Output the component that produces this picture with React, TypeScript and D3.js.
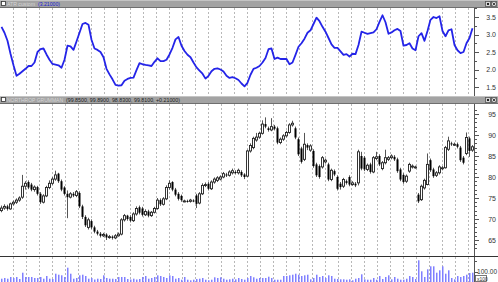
import React from 'react';
import * as d3 from 'd3';

const opens = [
  72.0, 72.6, 73.0, 72.4, 73.6, 74.0, 74.5, 75.2, 77.8, 78.8,
  78.2, 77.0, 77.6, 76.0, 74.0, 75.5, 77.5, 78.5, 79.5, 80.8,
  79.0, 77.5, 76.0, 75.2, 76.0, 75.6, 76.2, 73.0, 70.5, 68.0,
  69.5, 68.0, 67.0, 66.5, 66.0, 66.3, 65.6, 65.8, 65.5, 66.0,
  66.4, 69.8, 70.8, 70.5, 69.6, 71.2, 72.8, 72.5, 71.0, 71.8,
  70.8, 71.6, 72.5, 74.5, 73.5, 74.8, 77.5, 78.8, 77.0, 76.0,
  75.5, 74.3, 74.3, 74.2, 74.4, 75.6, 73.8, 76.0, 78.0, 78.4,
  77.2, 78.8, 79.2, 79.5, 80.0, 80.6, 80.4, 81.0, 81.2, 81.0,
  81.2, 80.6, 80.2, 86.2, 87.0, 88.8, 89.5, 90.4, 92.6, 91.6,
  91.2, 92.0, 91.6, 88.2, 89.0, 89.8, 90.6, 92.4, 91.6, 89.0,
  86.8, 84.2, 87.6, 86.4, 86.2, 83.0, 82.6, 82.4, 83.6, 83.0,
  79.4, 81.4, 80.0, 78.4, 77.8, 79.0, 80.0, 78.2, 78.4, 78.6,
  85.0, 84.6, 81.8, 83.0, 81.2, 84.4, 85.0, 82.0, 83.4, 84.2,
  84.6, 84.8, 84.2, 81.8, 80.5, 79.0, 81.4, 82.4, 82.4, 75.8,
  74.6, 77.4, 78.2, 84.0, 81.8, 80.4, 81.0, 82.0, 82.2, 86.6,
  88.0, 87.8, 87.8, 87.0, 84.6, 85.6, 89.2, 86.4,
];
const highs = [
  73.2, 73.5, 73.4, 73.9, 74.4, 74.9, 75.4, 80.5, 79.0, 79.2,
  78.6, 78.0, 77.9, 76.4, 75.9, 77.9, 79.2, 80.0, 81.5, 81.0,
  79.4, 77.8, 76.8, 76.4, 76.4, 76.9, 76.6, 73.4, 70.9, 70.3,
  69.9, 68.4, 67.4, 66.9, 66.7, 66.6, 66.2, 66.1, 66.4, 66.8,
  70.2, 71.2, 71.0, 70.9, 71.6, 73.0, 73.2, 72.9, 72.3, 72.2,
  71.9, 72.9, 75.0, 74.9, 75.2, 78.0, 79.2, 79.0, 77.4, 76.4,
  75.8, 74.6, 74.6, 74.8, 74.7, 76.0, 76.4, 78.5, 78.7, 78.8,
  79.2, 79.9, 80.2, 80.4, 81.2, 81.0, 81.6, 82.0, 81.6, 82.0,
  81.6, 80.9, 86.5, 88.0, 89.6, 90.5, 90.8, 93.5, 94.2, 92.0,
  94.0, 92.4, 92.0, 89.4, 90.2, 91.0, 92.8, 93.4, 92.0, 89.4,
  87.2, 90.5, 88.0, 87.8, 86.6, 83.4, 83.0, 85.0, 84.4, 83.4,
  82.0, 81.8, 80.4, 78.8, 79.8, 79.4, 80.4, 79.0, 78.8, 86.5,
  86.0, 85.0, 83.2, 83.4, 85.0, 86.0, 85.4, 83.8, 86.5, 85.0,
  85.4, 85.2, 84.6, 82.2, 80.9, 80.6, 83.4, 83.0, 82.7, 76.2,
  78.2, 79.6, 85.6, 84.4, 82.2, 81.4, 82.8, 82.6, 87.4, 89.6,
  88.4, 88.2, 88.2, 87.4, 85.0, 90.6, 89.6, 87.6,
];
const lows = [
  71.6, 72.2, 72.0, 72.2, 73.2, 73.6, 74.1, 74.8, 77.0, 77.1,
  76.6, 76.5, 75.6, 73.6, 73.7, 75.2, 77.1, 78.1, 79.1, 78.6,
  76.6, 75.6, 70.2, 74.9, 75.2, 75.2, 72.6, 70.0, 68.1, 67.5,
  67.6, 66.6, 66.1, 65.6, 65.7, 65.0, 65.3, 65.1, 65.2, 65.8,
  66.1, 69.4, 69.6, 69.2, 69.3, 70.8, 71.1, 70.6, 70.7, 70.4,
  70.5, 71.3, 72.2, 73.1, 73.2, 74.5, 77.0, 76.6, 75.4, 74.4,
  74.1, 74.0, 73.9, 73.9, 74.0, 72.6, 73.5, 75.7, 77.6, 76.8,
  76.9, 78.4, 78.8, 79.2, 79.7, 80.0, 80.1, 80.6, 80.6, 80.6,
  80.0, 79.5, 80.0, 85.8, 86.6, 88.4, 89.1, 90.1, 91.6, 90.8,
  90.9, 91.1, 87.8, 87.8, 88.6, 89.4, 90.3, 92.0, 89.0, 85.0,
  83.2, 83.8, 86.4, 86.0, 82.2, 80.0, 79.6, 82.0, 83.2, 79.0,
  79.0, 80.2, 76.8, 77.0, 77.4, 78.2, 77.8, 77.9, 77.6, 78.0,
  81.6, 81.4, 81.4, 80.8, 80.9, 84.0, 82.6, 81.6, 83.0, 83.8,
  84.2, 83.8, 81.0, 79.0, 78.4, 78.6, 81.0, 82.0, 82.0, 73.8,
  74.3, 77.0, 78.0, 81.2, 79.8, 80.0, 80.6, 81.6, 82.0, 86.2,
  87.4, 87.4, 86.8, 83.6, 83.0, 85.2, 84.8, 86.0,
];
const closes = [
  72.6, 73.0, 72.4, 73.6, 74.0, 74.5, 75.0, 77.8, 78.5, 77.5,
  77.0, 77.6, 76.0, 74.0, 75.5, 77.5, 78.5, 79.5, 80.5, 79.0,
  77.0, 76.0, 75.2, 76.0, 75.6, 76.5, 73.0, 70.5, 68.5, 69.8,
  68.0, 67.0, 66.5, 66.0, 66.3, 65.6, 65.8, 65.5, 66.0, 66.4,
  69.8, 70.8, 70.0, 69.6, 71.2, 72.5, 71.5, 71.0, 71.8, 70.8,
  71.6, 72.5, 74.5, 73.5, 74.8, 77.5, 78.5, 77.0, 75.8, 74.8,
  74.5, 74.3, 74.2, 74.5, 74.3, 73.6, 76.0, 78.0, 78.2, 77.2,
  78.8, 79.5, 79.8, 80.0, 80.8, 80.4, 81.2, 81.5, 81.0, 81.6,
  80.4, 80.0, 86.2, 87.5, 89.2, 89.5, 90.4, 92.6, 92.0, 91.2,
  92.0, 91.5, 88.2, 89.0, 89.8, 90.6, 92.4, 92.8, 89.4, 85.4,
  83.6, 87.8, 87.0, 87.4, 82.6, 80.4, 80.0, 84.6, 84.0, 79.4,
  81.6, 80.6, 77.2, 77.6, 79.4, 78.6, 78.2, 78.6, 78.0, 86.0,
  82.0, 81.8, 82.8, 81.2, 84.6, 84.8, 83.0, 83.4, 84.6, 84.6,
  85.0, 84.2, 81.4, 79.4, 78.8, 80.2, 83.0, 82.6, 82.4, 74.2,
  77.8, 79.2, 83.0, 81.6, 80.2, 81.0, 82.4, 82.2, 87.0, 88.6,
  87.8, 87.8, 87.2, 84.0, 83.4, 89.4, 86.2, 87.2,
];
const atr = [
  3.22, 3.05, 2.82, 2.45, 2.12, 1.82, 1.88, 1.95, 2.02, 2.1,
  2.1, 2.2, 2.5, 2.58, 2.6, 2.43, 2.28, 2.16, 2.14, 2.12,
  2.05, 2.28, 2.68, 2.66, 2.56, 2.8, 3.05, 3.3, 3.33, 3.28,
  2.85, 2.6, 2.56, 2.5, 2.35, 2.02, 1.86, 1.72, 1.56, 1.54,
  1.55, 1.68, 1.73, 1.76, 1.77, 1.98, 2.18, 2.15, 2.13, 2.12,
  2.1, 2.22, 2.32, 2.24, 2.24, 2.28, 2.43, 2.62, 2.86, 2.93,
  2.68, 2.53, 2.42, 2.35, 2.2, 2.06, 1.97, 1.88, 1.74, 1.82,
  1.95, 2.02, 2.03, 2.0, 1.94, 1.82, 1.76, 1.78, 1.75, 1.7,
  1.6, 1.52, 1.62, 1.85, 2.02, 2.05, 2.1, 2.2, 2.33, 2.58,
  2.6, 2.3, 2.34, 2.3, 2.3, 2.3, 2.15, 2.2, 2.42, 2.65,
  2.75, 2.88, 3.05, 3.12, 3.3, 3.48, 3.38, 3.22, 3.08, 2.9,
  2.72, 2.62, 2.62, 2.52, 2.42, 2.44, 2.37, 2.45, 2.44, 2.7,
  3.08, 3.05, 3.02, 3.04, 3.06, 3.15, 3.36, 3.55, 3.35, 3.02,
  3.06, 3.12, 3.16, 3.1, 2.68, 2.7, 2.75, 2.6, 2.55, 2.95,
  3.04, 2.82, 3.1, 3.42, 3.5, 3.47, 3.52, 3.1, 2.95, 3.12,
  3.15, 2.7, 2.55, 2.47, 2.5, 2.75, 2.9, 3.18,
];
const volumes = [
  33, 40, 33, 50, 40, 50, 30, 93, 50, 50,
  50, 40, 40, 50, 33, 60, 33, 30, 83, 73,
  67, 50, 143, 83, 33, 40, 67, 73, 60, 33,
  40, 25, 33, 30, 67, 40, 33, 33, 30, 50,
  50, 50, 30, 25, 33, 25, 30, 50, 60, 33,
  40, 50, 67, 60, 50, 40, 67, 60, 33, 40,
  23, 50, 23, 17, 23, 30, 33, 40, 23, 17,
  23, 47, 40, 47, 33, 23, 27, 33, 27, 40,
  30, 23, 40, 60, 47, 33, 40, 40, 40, 53,
  40, 23, 23, 23, 60, 60, 67, 73, 83, 73,
  60, 67, 73, 27, 40, 73, 50, 60, 40, 67,
  60, 33, 30, 27, 27, 23, 27, 17, 33, 40,
  77, 27, 23, 23, 40, 23, 60, 30, 50, 67,
  27, 50, 33, 23, 23, 33, 60, 50, 30, 217,
  107, 50, 127, 157, 157, 93, 117, 157, 83, 117,
  40, 27, 60, 50, 60, 73, 90, 93,
];
const atrTicks = [1.5, 2.0, 2.5, 3.0, 3.5];
const priceTicks = [65, 70, 75, 80, 85, 90, 95];
const volTicks = [100];
const atrTitle = 'ATR custom';
const atrValue = '(3.21000)';
const priceTitle = 'NORTHROP GRUMMAN';
const priceValue = '(99.8500, 99.8900, 98.8300, 99.8100, +0.21000)';

const W = 498;
const H = 282;
const PLOT_R = 474;
const FONT = 'Liberation Sans, Arial, sans-serif';

function Header({ y, title, value, valueColor, titleLen, valueLen }: any) {
  return (
    <g>
      <rect x={0} y={y} width={W} height={8} fill="#a3a3a3" />
      <line x1={0} x2={W} y1={y + 0.5} y2={y + 0.5} stroke="#c4c4c4" />
      <line x1={0} x2={W} y1={y + 7.5} y2={y + 7.5} stroke="#6e6e6e" />
      <rect x={1.5} y={y + 1.5} width={4} height={4} fill="#fff" stroke="#333" strokeWidth={0.8} />
      <text x={7} y={y + 6} fontSize={5.2} fontFamily={FONT} fill="#d6d6d6" textLength={titleLen} lengthAdjust="spacingAndGlyphs">{title}</text>
      <text x={10 + titleLen} y={y + 6} fontSize={5.6} fontFamily={FONT} fill={valueColor} textLength={valueLen} lengthAdjust="spacingAndGlyphs">{value}</text>
      <rect x={485.5} y={y + 1.5} width={5} height={5} fill="#d4d4d4" stroke="#555" strokeWidth={0.8} />
      <rect x={487} y={y + 3} width={2} height={2} fill="#222" />
      <rect x={491.5} y={y + 1.5} width={5} height={5} fill="#d4d4d4" stroke="#555" strokeWidth={0.8} />
      <line x1={492.5} x2={495.5} y1={y + 2.5} y2={y + 5.5} stroke="#222" strokeWidth={0.8} />
      <line x1={495.5} x2={492.5} y1={y + 2.5} y2={y + 5.5} stroke="#222" strokeWidth={0.8} />
    </g>
  );
}

export default function App() {
  const n = closes.length;
  const idx = d3.range(n);
  const x = d3.scaleBand<number>().domain(idx).range([0, PLOT_R]).paddingInner(0).paddingOuter(0);
  const cx = (i: number) => Math.floor(x(i)!) + 1.5;

  const yAtr = d3.scaleLinear().domain([1.5, 3.5]).range([87, 17]);
  const yPx = d3.scaleLinear().domain([65, 95]).range([240, 114]);
  const yVol = d3.scaleLinear().domain([0, 100]).range([282, 272]);

  const atrLine = d3.line<number>().x((_, i) => cx(i)).y((d) => yAtr(d)).curve(d3.curveLinear);

  const gridXs = d3.range(13, PLOT_R, 13);
  const panes = [
    [8, 96],
    [104, 256],
    [257, 282],
  ];

  const atrMinor = d3.range(1.25, 3.8, 0.25);
  const pxMinor = d3.range(63, 97, 1);

  return (
    <svg width={W} height={H} style={{ position: 'fixed', left: 0, top: 0, background: '#fff' }}>
      <rect x={0} y={0} width={W} height={H} fill="#fff" />
      {panes.map(([a, b], k) =>
        gridXs.map((gx) => (
          <line key={`g${k}-${gx}`} x1={gx + 0.5} x2={gx + 0.5} y1={a} y2={b} stroke="#b8b8b8" strokeDasharray="2,2" strokeWidth={1} />
        ))
      )}
      <line x1={PLOT_R + 0.5} x2={PLOT_R + 0.5} y1={8} y2={96} stroke="#555" />
      <line x1={PLOT_R + 0.5} x2={PLOT_R + 0.5} y1={104} y2={256} stroke="#555" />
      <line x1={PLOT_R + 0.5} x2={PLOT_R + 0.5} y1={257} y2={282} stroke="#555" />

      {atrMinor.map((v) => (
        <line key={`am${v}`} x1={PLOT_R} x2={PLOT_R + 3} y1={Math.round(yAtr(v)) + 0.5} y2={Math.round(yAtr(v)) + 0.5} stroke="#555" />
      ))}
      {atrTicks.map((v) => (
        <g key={`at${v}`}>
          <line x1={PLOT_R} x2={PLOT_R + 5} y1={Math.round(yAtr(v)) + 0.5} y2={Math.round(yAtr(v)) + 0.5} stroke="#555" />
          <text x={496} y={yAtr(v) + 2.5} fontSize={7} fontFamily={FONT} fill="#333" textAnchor="end">{v.toFixed(1)}</text>
        </g>
      ))}

      <path d={atrLine(atr) || ''} fill="none" stroke="#2424e8" strokeWidth={1.8} strokeLinejoin="round" />

      {pxMinor.filter((v) => yPx(v) > 105 && yPx(v) < 255).map((v) => (
        <line key={`pm${v}`} x1={PLOT_R} x2={PLOT_R + 3} y1={Math.round(yPx(v)) + 0.5} y2={Math.round(yPx(v)) + 0.5} stroke="#555" />
      ))}
      {priceTicks.map((v) => (
        <g key={`pt${v}`}>
          <line x1={PLOT_R} x2={PLOT_R + 5} y1={Math.round(yPx(v)) + 0.5} y2={Math.round(yPx(v)) + 0.5} stroke="#555" />
          <text x={496} y={yPx(v) + 2.5} fontSize={7} fontFamily={FONT} fill="#333" textAnchor="end">{v}</text>
        </g>
      ))}

      {idx.map((i) => {
        const o = opens[i];
        const c = closes[i];
        const up = c >= o;
        const top = yPx(Math.max(o, c));
        const bot = yPx(Math.min(o, c));
        const xc = cx(i);
        return (
          <g key={`c${i}`}>
            <line x1={xc} x2={xc} y1={yPx(highs[i])} y2={yPx(lows[i])} stroke="#555" strokeWidth={1} />
            {up ? (
              <rect x={xc - 1} y={top} width={2} height={Math.max(1, bot - top)} fill="#fff" stroke="#222" strokeWidth={0.9} />
            ) : (
              <rect x={xc - 1} y={top} width={2} height={Math.max(1, bot - top)} fill="#000" />
            )}
          </g>
        );
      })}

      <line x1={0} x2={W} y1={256.5} y2={256.5} stroke="#333" strokeWidth={1.2} />

      {idx.map((i) => (
        <rect key={`v${i}`} x={cx(i) - 0.5} y={yVol(volumes[i])} width={1.5} height={282 - yVol(volumes[i])} fill="#8080ff" />
      ))}
      {volTicks.map((v) => (
        <g key={`vt${v}`}>
          <line x1={PLOT_R} x2={PLOT_R + 4} y1={Math.round(yVol(v)) + 0.5} y2={Math.round(yVol(v)) + 0.5} stroke="#555" />
          <text x={497} y={yVol(v) + 2} fontSize={6.5} fontFamily={FONT} fill="#333" textAnchor="end">{v.toFixed(2)}</text>
        </g>
      ))}
      <line x1={PLOT_R} x2={PLOT_R + 3} y1={261.5} y2={261.5} stroke="#555" />
      <rect x={475.5} y={275.5} width={11} height={6} fill="#fff" stroke="#555" strokeWidth={0.8} />
      <text x={477} y={280.5} fontSize={5} fontFamily={FONT} fill="#333">x100</text>

      <Header y={0} title={atrTitle} value={atrValue} valueColor="#1a1ad0" titleLen={28} valueLen={22} />
      <Header y={96} title={priceTitle} value={priceValue} valueColor="#1e1e1e" titleLen={56} valueLen={114} />
    </svg>
  );
}
